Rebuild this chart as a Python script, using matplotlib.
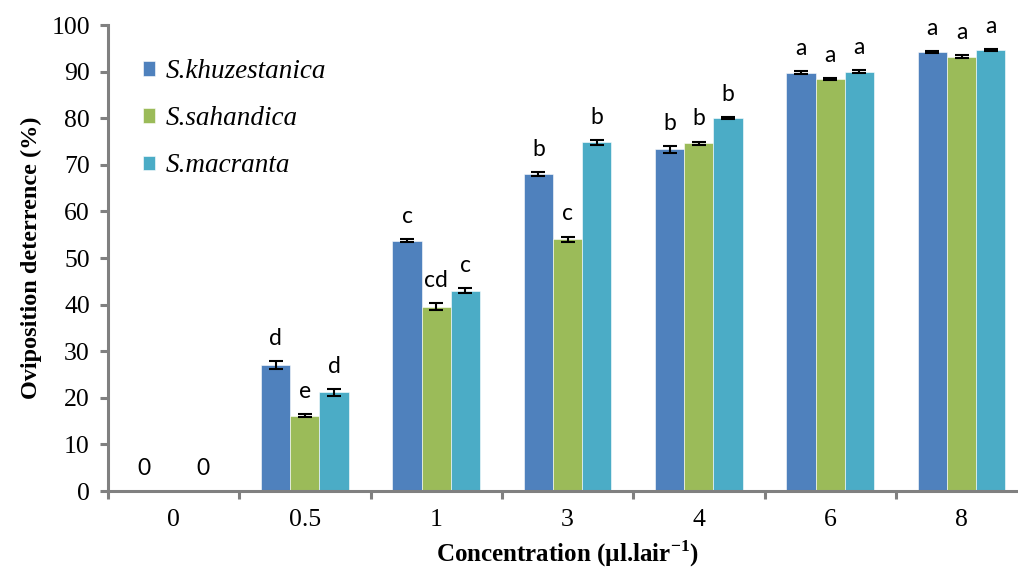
import numpy as np
import matplotlib
matplotlib.use('Agg')
import matplotlib.pyplot as plt

plt.rcParams.update({
    'font.family': 'serif',
    'font.serif': ['Liberation Serif', 'DejaVu Serif'],
    'mathtext.fontset': 'custom',
    'mathtext.rm': 'Liberation Serif:bold',
    'mathtext.bf': 'Liberation Serif:bold',
})

# ── data ─────────────────────────────────────────────
concentrations = ['0', '0.5', '1', '3', '4', '6', '8']
species = ['S.khuzestanica', 'S.sahandica', 'S.macranta']
colors = ['#4F81BD', '#9BBB59', '#4BACC6']

khuz_mean = [0, 27.0, 53.7, 68.0, 73.3, 89.8, 94.3]
sahan_mean = [0, 16.2, 39.6, 54.0, 74.6, 88.4, 93.2]
macr_mean = [0, 21.2, 43.0, 74.8, 80.0, 90.0, 94.6]

khuz_err = [0, 0.8, 0.3, 0.5, 0.8, 0.3, 0.2]
sahan_err = [0, 0.4, 0.8, 0.6, 0.4, 0.2, 0.3]
macr_err = [0, 0.7, 0.6, 0.5, 0.2, 0.3, 0.2]

khuz_lbl = ['0', 'd', 'c', 'b', 'b', 'a', 'a']
sahan_lbl = ['', 'e', 'cd', 'c', 'b', 'a', 'a']
macr_lbl = ['0', 'd', 'c', 'b', 'b', 'a', 'a']

means = [khuz_mean, sahan_mean, macr_mean]
errs = [khuz_err, sahan_err, macr_err]
lbls = [khuz_lbl, sahan_lbl, macr_lbl]

# ── figure ───────────────────────────────────────────
fig = plt.figure(figsize=(10.18, 5.69), dpi=100)
ax = fig.add_axes([0.106, 0.137, 0.903, 0.819])

x = np.arange(len(concentrations))
w = 0.222
grey = '#808080'

for i in range(3):
    pos = x + (i - 1) * w
    ax.bar(pos, means[i], w, color=colors[i], label=species[i],
           edgecolor='white', linewidth=0.4, zorder=2)
    m = np.array(means[i])
    e = np.array(errs[i])
    mask = m > 0
    ax.errorbar(pos[mask], m[mask], yerr=e[mask], fmt='none', ecolor='black',
                elinewidth=1.5, capsize=5, capthick=1.5, zorder=3)
    for p, v, er, t in zip(pos, m, e, lbls[i]):
        if t:
            ax.text(p, v + er + 2.6, t, ha='center', va='bottom',
                    fontsize=16.5, family='Lato', zorder=4)

ax.set_xlim(-0.5, 6.5)
ax.set_ylim(0, 100)
ax.set_yticks(range(0, 101, 10))
ax.set_xticks(x)
ax.set_xticklabels(concentrations)
ax.set_xticks(np.arange(-0.5, 6.6, 1), minor=True)

for s in ['top', 'right']:
    ax.spines[s].set_visible(False)
for s in ['left', 'bottom']:
    ax.spines[s].set_color(grey)
    ax.spines[s].set_linewidth(2.2)

ax.tick_params(axis='y', length=6, width=2.2, color=grey, labelsize=18.5, pad=7)
ax.tick_params(axis='x', which='major', length=0, labelsize=18.5, pad=13)
ax.tick_params(axis='x', which='minor', length=6, width=2.2, color=grey)

ax.set_ylabel('Oviposition deterrence (%)', fontsize=17.5, fontweight='bold', labelpad=7)
ax.set_xlabel(r'Concentration (µl.lair$^{\mathbf{-1}}$)', fontsize=18,
              fontweight='bold')
ax.xaxis.set_label_coords(0.5, -0.101)

leg = ax.legend(loc='upper left', bbox_to_anchor=(0.038, 0.927), frameon=False,
                prop={'family': 'Liberation Serif', 'style': 'italic', 'size': 19.5},
                handlelength=0.45, handleheight=0.45, handletextpad=0.4,
                labelspacing=0.82, borderpad=0, borderaxespad=0)

fig.savefig('out.png', dpi=100)
